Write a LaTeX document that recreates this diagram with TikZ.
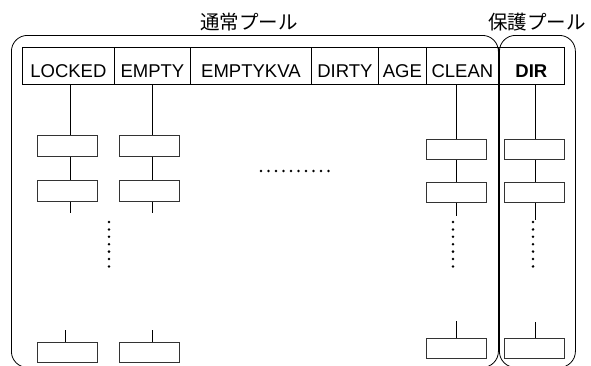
\documentclass[tikz,border=0pt]{standalone}
\usepackage{fontspec}
\setmainfont{Liberation Sans}
\newfontfamily\jpfont{Noto Sans CJK JP}
\begin{document}
\begin{tikzpicture}[x=1pt,y=-1pt,
  cell/.style={draw, line width=0.8pt, inner sep=0pt, anchor=north west, minimum height=37pt,
    text height=25pt, text depth=2pt, font=\fontsize{18.5}{20}\selectfont},
  blk/.style={draw=black!80, line width=1pt, inner sep=0pt, minimum width=60pt, minimum height=20.4pt},
  pool/.style={draw, line width=0.8pt, rounded corners=16pt, inner sep=0pt, anchor=north west},
  stem/.style={line width=0.8pt},
  title/.style={font=\jpfont\fontsize{19.5}{20}\selectfont, inner sep=0pt}]
\useasboundingbox (0,0) rectangle (591,365);
\clip (0,0) rectangle (591,365);
% pools
\node[pool, minimum width=487pt, minimum height=332pt] (normal) at (11,35) {};
\node[pool, minimum width=76pt, minimum height=332pt] (protect) at (499,35) {};
\node[title] (tnormal) at (249,22) {通常プール};
\node[title] (tprotect) at (537,22) {保護プール};
% header cells
\node[cell, minimum width=92pt] (locked) at (22,47) {LOCKED};
\node[cell, minimum width=76pt] (empty) at (114,47) {EMPTY};
\node[cell, minimum width=121pt] (emptykva) at (190,47) {EMPTYKVA};
\node[cell, minimum width=67pt] (dirty) at (311,47) {DIRTY};
\node[cell, minimum width=48pt] (age) at (378,47) {AGE};
\node[cell, minimum width=72pt] (clean) at (426,47) {CLEAN};
\node[cell, minimum width=66pt, font=\fontsize{18.5}{20}\selectfont\bfseries] (dir) at (498,47) {DIR};
% column x positions
\coordinate (lx) at (70,0);
\coordinate (ex) at (152,0);
\coordinate (cx) at (456,0);
\coordinate (dx) at (535,0);
% LOCKED column
\node[blk] (l1) at (67.5,146) {};
\node[blk] (l2) at (67.5,191) {};
\node[blk] (l3) at (67.5,352.5) {};
\coordinate (lend) at (70,213);
\coordinate (l3top) at (65,330);
\draw[stem] (locked.south -| lx) -- (l1.north -| lx);
\draw[stem] (l1.south -| lx) -- (l2.north -| lx);
\draw[stem] (l2.south -| lx) -- (lend);
\draw[stem] (l3top) -- (l3.north -| l3top);
% EMPTY column
\node[blk] (e1) at (149,146) {};
\node[blk] (e2) at (149,191) {};
\node[blk] (e3) at (149,352.5) {};
\coordinate (eend) at (152,213);
\coordinate (e3top) at (152,330);
\draw[stem] (empty.south -| ex) -- (e1.north -| ex);
\draw[stem] (e1.south -| ex) -- (e2.north -| ex);
\draw[stem] (e2.south -| ex) -- (eend);
\draw[stem] (e3top) -- (e3.north -| e3top);
% CLEAN column
\node[blk] (c1) at (456,149.6) {};
\node[blk] (c2) at (456,192.5) {};
\node[blk] (c3) at (456,348.3) {};
\coordinate (cend) at (456,216);
\coordinate (c3top) at (456,321);
\draw[stem] (clean.south -| cx) -- (c1.north -| cx);
\draw[stem] (c1.south -| cx) -- (c2.north -| cx);
\draw[stem] (c2.south -| cx) -- (cend);
\draw[stem] (c3top) -- (c3.north -| c3top);
% DIR column
\node[blk] (d1) at (534.5,149.6) {};
\node[blk] (d2) at (534.5,192.5) {};
\node[blk] (d3) at (534.5,348.3) {};
\coordinate (dend) at (535,220);
\coordinate (d3top) at (535,322);
\draw[stem] (dir.south -| dx) -- (d1.north -| dx);
\draw[stem] (d1.south -| dx) -- (d2.north -| dx);
\draw[stem] (d2.south -| dx) -- (dend);
\draw[stem] (d3top) -- (d3.north -| d3top);
% dots
\foreach \i in {0,...,9} \fill (261+7.5*\i,171) circle[radius=1.3pt];
\foreach \i in {0,...,6} {
  \fill (109,222+7.4*\i) circle[radius=1.4pt];
  \fill (453,222+7.4*\i) circle[radius=1.4pt];
  \fill (533,222+7.4*\i) circle[radius=1.4pt];
}
\end{tikzpicture}
\end{document}
